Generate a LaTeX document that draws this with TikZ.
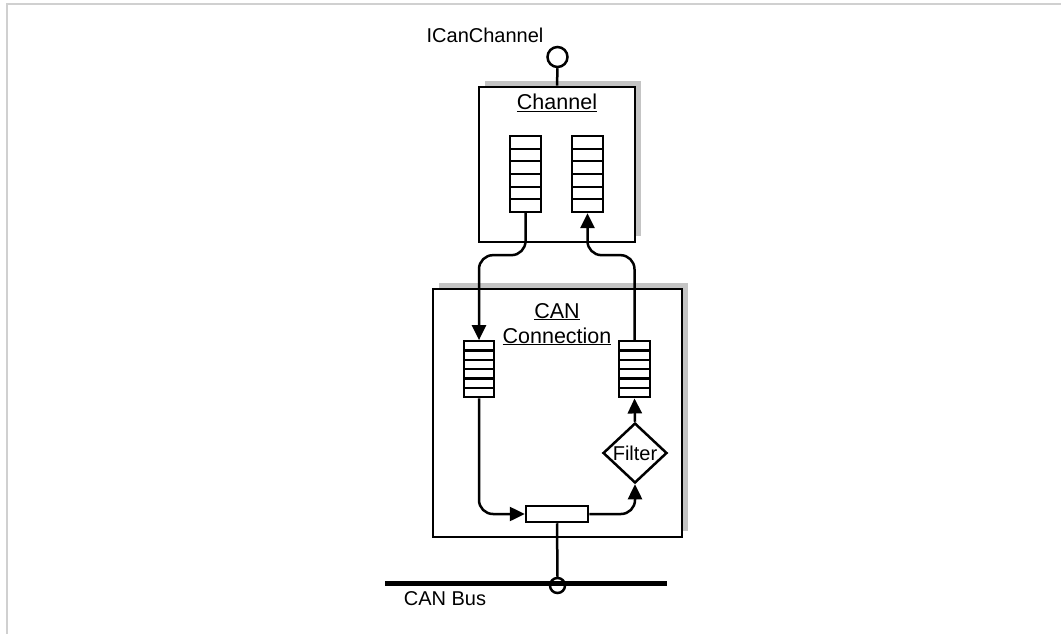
\documentclass[tikz,border=0pt]{standalone}
\usepackage{fontspec}
\setmainfont{Liberation Sans}
\usetikzlibrary{arrows.meta,shapes.geometric,calc,shadows}
\definecolor{shadowgray}{RGB}{196,196,196}
\definecolor{framegray}{RGB}{208,208,208}
\begin{document}
\begin{tikzpicture}[x=1pt,y=-1pt,
  txt/.style={font=\fontsize{20}{24}\selectfont, inner sep=0},
  ttl/.style={font=\fontsize{21.5}{25}\selectfont, inner sep=0},
  comp/.style={draw, line width=2.8, fill=white, inner sep=0,
    drop shadow={shadow xshift=6pt, shadow yshift=6pt, fill=shadowgray, opacity=1}},
  queuebox/.style={draw, line width=2.3, fill=white, inner sep=0, minimum width=31, minimum height=#1,
    path picture={\foreach \i in {1,...,5}{\draw[line width=2.3]
      ($(path picture bounding box.north west)!\i/6!(path picture bounding box.south west)$) --
      ($(path picture bounding box.north east)!\i/6!(path picture bounding box.south east)$);}}},
  conn/.style={line width=2.5, rounded corners=14},
  arr/.style={conn, -{Triangle[length=15pt,width=14pt]}}
]
\useasboundingbox (0,0) rectangle (1061,634);
\draw[framegray, line width=1.5] (7,634) -- (7,4) -- (1061,4);

% components
\node[comp, minimum width=156, minimum height=155] (chbox) at (557,164.5) {};
\node[comp, minimum width=249, minimum height=248] (canbox) at (557.5,413) {};

% titles
\node[txt, anchor=base] (ifcl) at (485,43) {ICanChannel};
\node[ttl, anchor=base] (chl) at (557,110) {\underline{Channel}};
\node[ttl, anchor=base] (canl1) at (557,318) {\underline{CAN}};
\node[ttl, anchor=base] (canl2) at (557,343) {\underline{Connection}};

% interface circle
\node[draw, circle, line width=2.5, fill=white, minimum size=20, inner sep=0] (ifc) at (557.5,57) {};

% queues
\node[queuebox=76] (chL) at (525.5,174) {};
\node[queuebox=76] (chR) at (587.5,174) {};
\node[queuebox=56, minimum width=30] (canL) at (479,369.3) {};
\node[queuebox=56] (canR) at (634.5,369.3) {};

% filter and mux
\node[txt, draw, diamond, line width=2.5, fill=white, aspect=1.07, minimum width=64, minimum height=60] (filter) at (635,453) {Filter};
\node[draw, line width=2.5, fill=white, minimum width=62, minimum height=16, inner sep=0] (mux) at (557,514) {};

% bus
\node[draw, circle, line width=2.5, fill=white, minimum size=15, inner sep=0] (busc) at (557.5,585.5) {};
\coordinate (busL) at (385,583.5);
\coordinate (busR) at (667,583.5);
\draw[line width=5.5] (busL) -- (busR);
\node[txt, anchor=base] (busl) at (445,605) {CAN Bus};

% connectors
\draw[line width=2.5] (ifc.south) -- (chbox.north);
\coordinate (lmid) at ($(chL.south)+(0,42)$);
\coordinate (rmid) at ($(chR.south)+(0,42)$);
\draw[arr] (chL.south) -- (lmid) -| (canL.north);
\draw[arr] (canR.north) |- (rmid) -- (chR.south);
\draw[arr] (canL.south) |- (mux.west);
\draw[arr] (mux.east) -| (filter.south);
\draw[arr] (filter.north) -- (canR.south);
\draw[line width=2.5] (mux.south) -- (busc.north);
\end{tikzpicture}
\end{document}
